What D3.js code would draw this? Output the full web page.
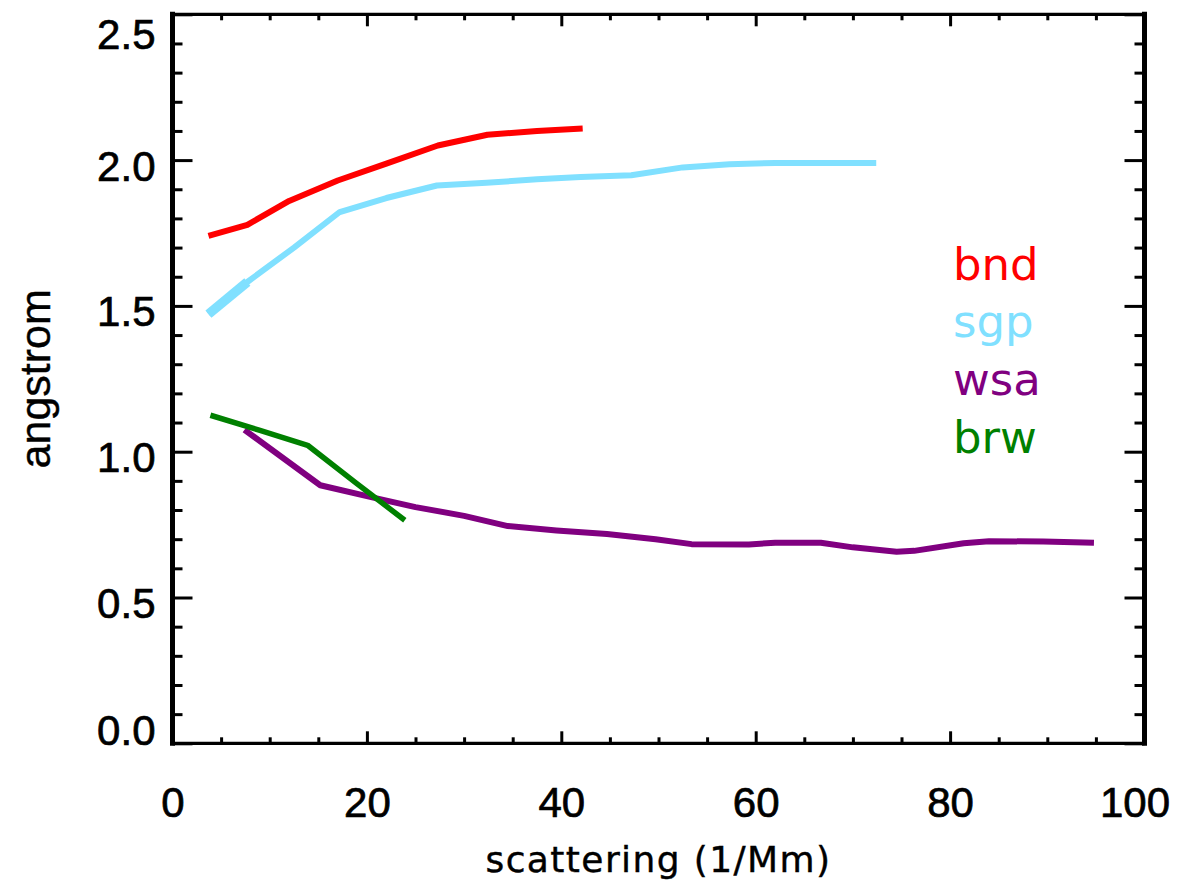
<!DOCTYPE html>
<html>
<head>
<meta charset="utf-8">
<script src="https://cdn.jsdelivr.net/npm/d3@7"></script>
<style>
  html, body { margin: 0; padding: 0; background: #fff; }
  svg { display: block; }
</style>
</head>
<body>
<script>
// ---- data ----
const bndX = [3.7, 7.7, 12, 17, 22, 27.3, 32.4, 37.5, 42.2];
const bndY = [1.74, 1.778, 1.86, 1.93, 1.988, 2.05, 2.087, 2.10, 2.108];

const sgpX = [3.7, 7.7, 12.5, 17.2, 22, 27.2, 32.3, 37.5, 42, 47.2, 52.5, 57.3, 62, 67.2, 72.4];
const sgpY = [1.472, 1.582, 1.70, 1.822, 1.87, 1.913, 1.922, 1.934, 1.942, 1.948, 1.975, 1.986, 1.99, 1.99, 1.99];

const wsaX = [7.4, 15.2, 21, 25, 30, 34.5, 39.5, 44.7, 49.7, 53.4, 59.3, 62, 66.7, 70, 74.5, 76.3, 81.4, 84, 89.6, 94.8];
const wsaY = [1.075, 0.885, 0.84, 0.81, 0.78, 0.745, 0.73, 0.718, 0.70, 0.683, 0.682, 0.688, 0.688, 0.672, 0.657, 0.66, 0.686, 0.693, 0.692, 0.688];

const brwX = [3.9, 9.0, 13.9, 18.9, 23.9];
const brwY = [1.125, 1.073, 1.022, 0.892, 0.765];

const seriesNames = ["bnd", "sgp", "wsa", "brw"];
const seriesColors = ["#ff0000", "#80e0ff", "#800080", "#008000"];

const xMajorTicks = [0, 20, 40, 60, 80, 100];
const xMinorTicks = d3.range(0, 101, 5).filter(v => v % 20 !== 0);
const yMajorTicks = [0.0, 0.5, 1.0, 1.5, 2.0, 2.5];
const yMinorTicks = d3.range(0, 26, 1).map(v => v / 10).filter(v => Math.round(v * 10) % 5 !== 0);

const xTitle = "scattering (1/Mm)";
const yTitle = "angstrom";

// ---- layout ----
const W = 1185, H = 888;
const L = 172.5, R = 1144.5, T = 14.3, B = 743.3;

const svg = d3.select("body").append("svg").attr("width", W).attr("height", H);

const x = d3.scaleLinear().domain([0, 100]).range([L, R]);
const y = d3.scaleLinear().domain([0, 2.5]).range([B, T]);

const tickFont = "'Liberation Sans', Arial, Helvetica, sans-serif";

function styleAxis(g) {
  g.select(".domain").remove();
  g.selectAll(".tick line").attr("stroke", "#000").attr("stroke-width", 3);
}

// bottom axis (major with labels)
const gB = svg.append("g").attr("transform", `translate(0,${B})`)
  .call(d3.axisBottom(x).tickValues(xMajorTicks).tickSize(-12).tickFormat(d3.format("d")));
styleAxis(gB);
gB.selectAll(".tick text")
  .attr("font-family", tickFont).attr("font-size", 42)
  .attr("fill", "#000").attr("stroke", "#000").attr("stroke-width", 0.7)
  .attr("y", 74).attr("dy", 0)
  .attr("x", d => Math.min(x(d), R - 10) - x(d));
svg.append("g").attr("transform", `translate(0,${B})`)
  .call(d3.axisBottom(x).tickValues(xMinorTicks).tickSize(-6).tickFormat(""))
  .call(styleAxis);

// top axis
svg.append("g").attr("transform", `translate(0,${T})`)
  .call(d3.axisTop(x).tickValues(xMajorTicks).tickSize(-12).tickFormat(""))
  .call(styleAxis);
svg.append("g").attr("transform", `translate(0,${T})`)
  .call(d3.axisTop(x).tickValues(xMinorTicks).tickSize(-6).tickFormat(""))
  .call(styleAxis);

// left axis
const gL = svg.append("g").attr("transform", `translate(${L},0)`)
  .call(d3.axisLeft(y).tickValues(yMajorTicks).tickSize(-20).tickFormat(d3.format(".1f")));
styleAxis(gL);
gL.selectAll(".tick text")
  .attr("font-family", tickFont).attr("font-size", 42)
  .attr("fill", "#000").attr("stroke", "#000").attr("stroke-width", 0.7)
  .attr("text-anchor", "end")
  .attr("x", -17).attr("dy", 0)
  .attr("y", d => {
    const cy = Math.min(Math.max(y(d) + 5, T + 19), B - 14);
    return cy - y(d) + 15;
  });
svg.append("g").attr("transform", `translate(${L},0)`)
  .call(d3.axisLeft(y).tickValues(yMinorTicks).tickSize(-10).tickFormat(""))
  .call(styleAxis);

// right axis
svg.append("g").attr("transform", `translate(${R},0)`)
  .call(d3.axisRight(y).tickValues(yMajorTicks).tickSize(-20).tickFormat(""))
  .call(styleAxis);
svg.append("g").attr("transform", `translate(${R},0)`)
  .call(d3.axisRight(y).tickValues(yMinorTicks).tickSize(-10).tickFormat(""))
  .call(styleAxis);

// frame
const frame = svg.append("g").attr("stroke", "#000").attr("stroke-linecap", "square");
frame.append("line").attr("x1", L).attr("x2", L).attr("y1", T).attr("y2", B).attr("stroke-width", 5);
frame.append("line").attr("x1", R).attr("x2", R).attr("y1", T).attr("y2", B).attr("stroke-width", 5);
frame.append("line").attr("x1", L).attr("x2", R).attr("y1", T).attr("y2", T).attr("stroke-width", 3.3);
frame.append("line").attr("x1", L).attr("x2", R).attr("y1", B).attr("y2", B).attr("stroke-width", 3.3);

// titles
svg.append("text")
  .attr("x", (L + R) / 2).attr("y", 872)
  .attr("text-anchor", "middle")
  .attr("font-family", "'DejaVu Sans', sans-serif").attr("font-size", 36)
  .attr("letter-spacing", 1.4)
  .attr("fill", "#000").attr("stroke", "#000").attr("stroke-width", 0.4)
  .text(xTitle);

svg.append("text")
  .attr("transform", `translate(50,${(T + B) / 2}) rotate(-90)`)
  .attr("text-anchor", "middle")
  .attr("font-family", tickFont).attr("font-size", 43)
  .attr("fill", "#000").attr("stroke", "#000").attr("stroke-width", 0.4)
  .text(yTitle);

// lines
const line = d3.line().x(d => x(d[0])).y(d => y(d[1])).curve(d3.curveLinear);
const allSeries = [
  d3.zip(bndX, bndY),
  d3.zip(sgpX, sgpY),
  d3.zip(wsaX, wsaY),
  d3.zip(brwX, brwY)
];
const widths = [6, 6, 6, 5.5];

// thicker first sgp segment
svg.append("path")
  .attr("d", line(allSeries[1].slice(0, 2)))
  .attr("fill", "none").attr("stroke", seriesColors[1]).attr("stroke-width", 9.5);

allSeries.forEach((s, i) => {
  svg.append("path")
    .attr("d", line(s))
    .attr("fill", "none")
    .attr("stroke", seriesColors[i])
    .attr("stroke-width", widths[i])
    .attr("stroke-linejoin", "round");
});

// legend
const legendY = [280, 337, 395, 453];
seriesNames.forEach((n, i) => {
  svg.append("text")
    .attr("x", 953).attr("y", legendY[i])
    .attr("font-family", "'DejaVu Sans', sans-serif").attr("font-size", 45)
    .attr("fill", seriesColors[i])
    .text(n);
});
</script>
</body>
</html>
